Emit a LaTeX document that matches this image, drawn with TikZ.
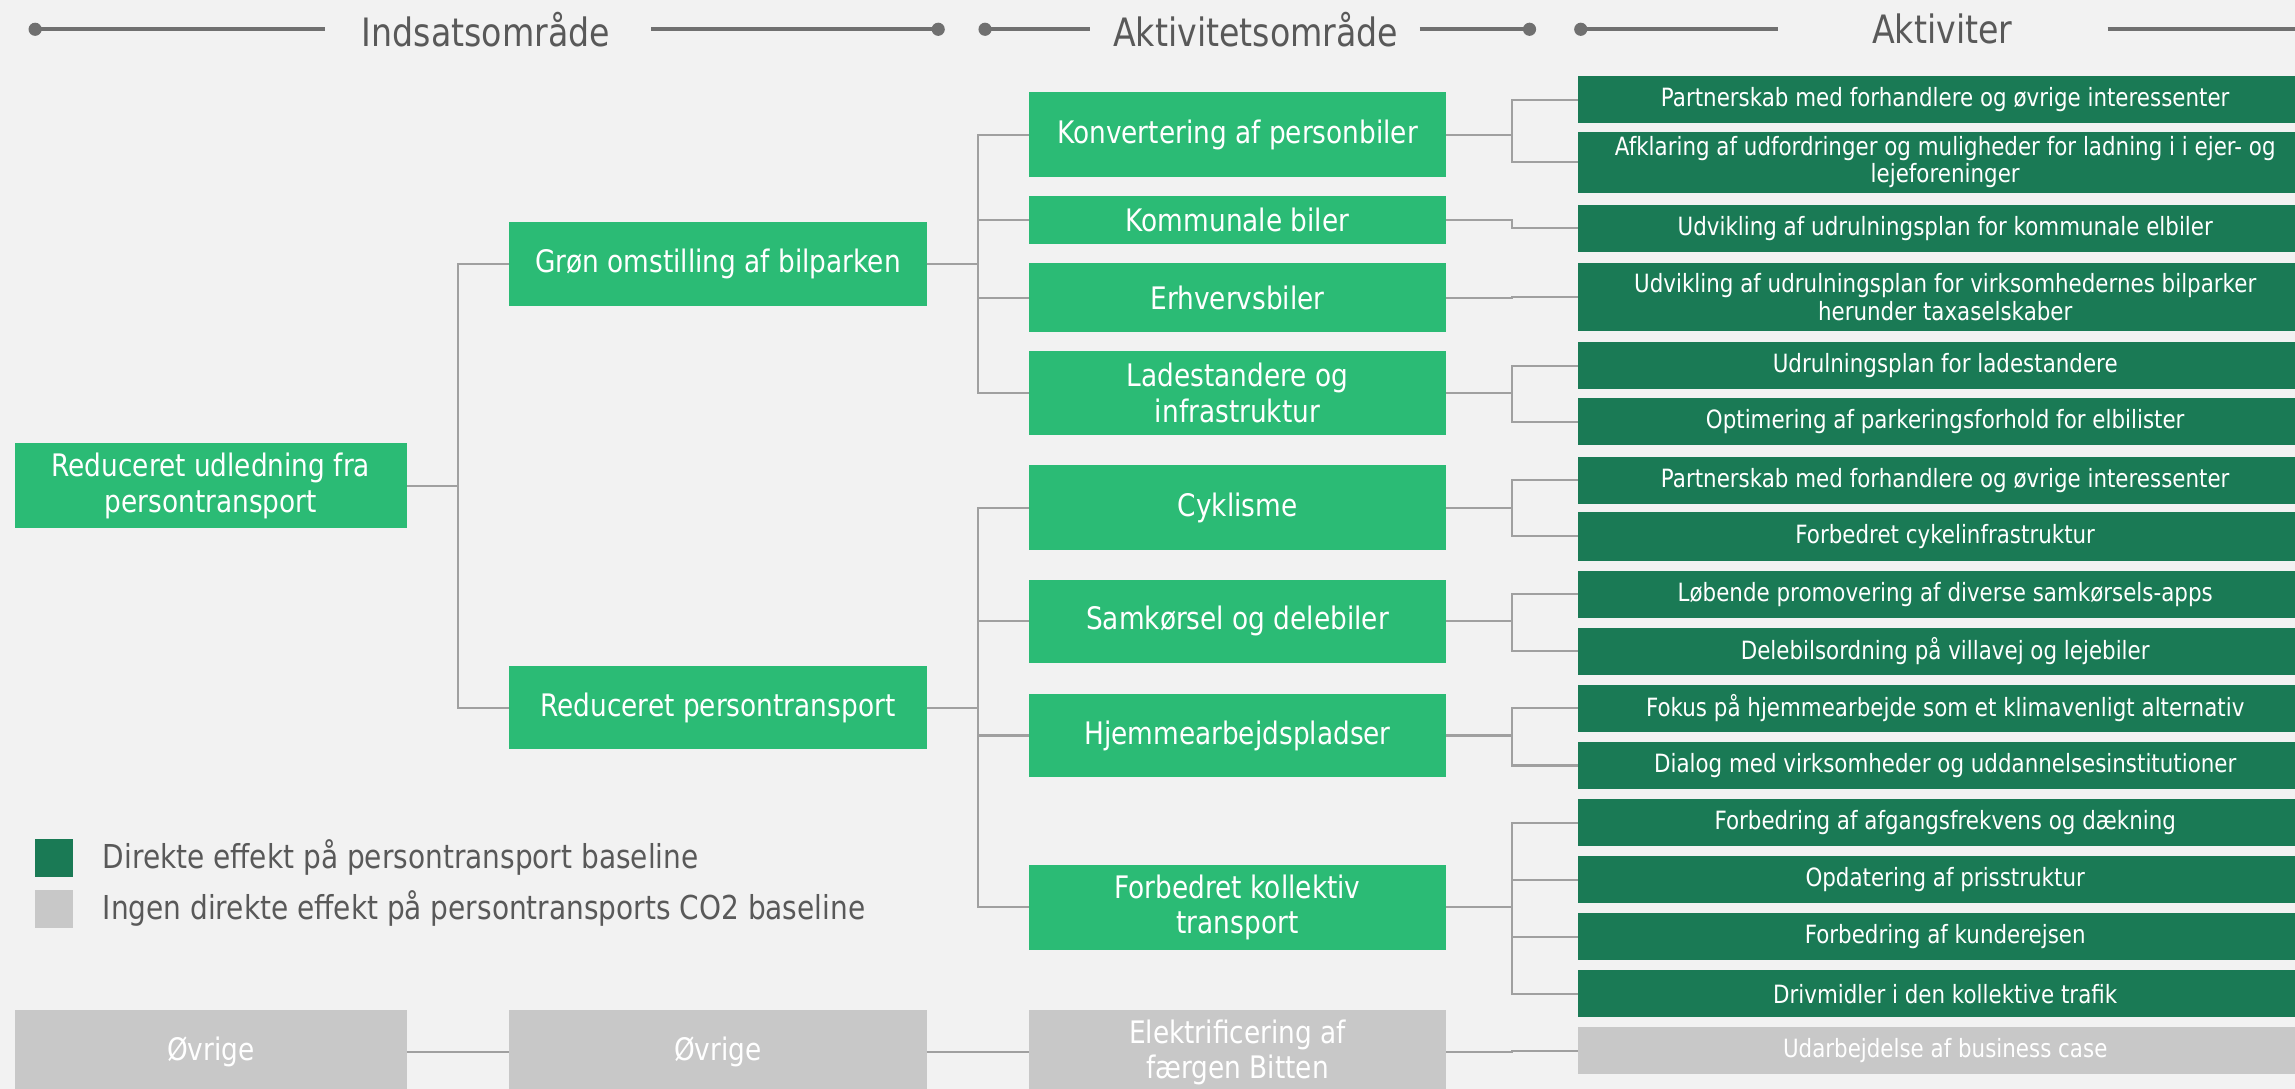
\documentclass[tikz,border=0pt]{standalone}
\usepackage{fontspec}
\setmainfont{DejaVu Sans}[FakeStretch=0.85]
\definecolor{bg}{HTML}{F2F2F2}
\definecolor{lgreen}{HTML}{2BBB75}
\definecolor{dgreen}{HTML}{1A7A55}
\definecolor{gbox}{HTML}{C8C8C8}
\definecolor{conn}{HTML}{A0A0A0}
\definecolor{hdrc}{HTML}{707070}
\definecolor{txtc}{HTML}{595959}
\tikzset{
  boxbase/.style={inner sep=0pt, outer sep=0pt, text=white, align=center},
  lg/.style={boxbase, fill=lgreen, minimum width=#1, font=\fontsize{21.2}{24.5}\selectfont},
  lg/.default=285,
  dg/.style={boxbase, fill=dgreen, minimum width=502, font=\fontsize{17.2}{18.5}\selectfont},
  gbx/.style={boxbase, fill=gbox, minimum width=#1, font=\fontsize{21.2}{24.5}\selectfont},
  gbx/.default=285,
  gsm/.style={boxbase, fill=gbox, minimum width=502, font=\fontsize{17.2}{18.5}\selectfont},
  cn/.style={draw=conn, line width=1.4pt},
  hline/.style={draw=hdrc, line width=3pt},
  hdot/.style={circle, fill=hdrc, inner sep=0pt, minimum size=9pt},
  htext/.style={text=txtc, font=\fontsize{26.7}{30}\selectfont, inner sep=0pt},
  legtext/.style={text=txtc, font=\fontsize{22.5}{26}\selectfont, anchor=west, inner sep=0pt},
  legsq/.style={minimum width=26, minimum height=26, inner sep=0pt}
}
\begin{document}
\begin{tikzpicture}[x=1pt,y=-1pt]
\useasboundingbox (0,0) rectangle (1568,744);
\clip (0,0) rectangle (1568,744);
\fill[bg] (0,0) rectangle (1568,744);

% header
\node[hdot] (d1) at (24,20) {};
\coordinate (l1e) at (222,20);
\node[htext] (h1) at (332,20) {Indsatsområde};
\coordinate (l2s) at (445,20);
\node[hdot] (d2) at (641,20) {};
\node[hdot] (d3) at (673,20) {};
\coordinate (l3e) at (745,20);
\node[htext] (h2) at (858,20) {Aktivitetsområde};
\coordinate (l4s) at (970,20);
\node[hdot] (d4) at (1045,20) {};
\node[hdot] (d5) at (1080,20) {};
\coordinate (l5e) at (1215,20);
\node[htext] (h3) at (1327,20) {Aktiviter};
\coordinate (l6s) at (1440,20);
\coordinate (l6e) at (1580,20);
\draw[hline] (d1.center) -- (l1e);
\draw[hline] (l2s) -- (d2.center);
\draw[hline] (d3.center) -- (l3e);
\draw[hline] (l4s) -- (d4.center);
\draw[hline] (d5.center) -- (l5e);
\draw[hline] (l6s) -- (l6e);

% column 1
\node[lg=268, minimum height=58] (root) at (144,332) {Reduceret udledning fra\\persontransport};
\node[gbx=268, minimum height=58] (ov1) at (144,719) {Øvrige};

% column 2
\node[lg, minimum height=57] (gron) at (490.5,180.5) {Grøn omstilling af bilparken};
\node[lg, minimum height=57] (redp) at (490.5,483.5) {Reduceret persontransport};
\node[gbx, minimum height=58] (ov2) at (490.5,719) {Øvrige};

% column 3
\node[lg, minimum height=58] (konv) at (845.5,92) {Konvertering af personbiler};
\node[lg, minimum height=33] (komm) at (845.5,150.5) {Kommunale biler};
\node[lg, minimum height=47] (erhv) at (845.5,203.5) {Erhvervsbiler};
\node[lg, minimum height=57] (lade) at (845.5,268.5) {Ladestandere og\\infrastruktur};
\node[lg, minimum height=58] (cykl) at (845.5,347) {Cyklisme};
\node[lg, minimum height=57] (samk) at (845.5,424.5) {Samkørsel og delebiler};
\node[lg, minimum height=57] (hjem) at (845.5,502.5) {Hjemmearbejdspladser};
\node[lg, minimum height=58] (koll) at (845.5,620) {Forbedret kollektiv\\transport};
\node[gbx, minimum height=58] (elek) at (845.5,719) {Elektrificering af\\færgen Bitten};

% column 4
\node[dg, minimum height=32] (a1) at (1329,68) {Partnerskab med forhandlere og øvrige interessenter};
\node[dg, minimum height=42] (a2) at (1329,111) {Afklaring af udfordringer og muligheder for ladning i i ejer- og\\lejeforeninger};
\node[dg, minimum height=32] (a3) at (1329,156) {Udvikling af udrulningsplan for kommunale elbiler};
\node[dg, minimum height=46] (a4) at (1329,203) {Udvikling af udrulningsplan for virksomhedernes bilparker\\herunder taxaselskaber};
\node[dg, minimum height=32] (a5) at (1329,250) {Udrulningsplan for ladestandere};
\node[dg, minimum height=32] (a6) at (1329,288) {Optimering af parkeringsforhold for elbilister};
\node[dg, minimum height=32] (a7) at (1329,328) {Partnerskab med forhandlere og øvrige interessenter};
\node[dg, minimum height=33] (a8) at (1329,366.5) {Forbedret cykelinfrastruktur};
\node[dg, minimum height=32] (a9) at (1329,406) {Løbende promovering af diverse samkørsels-apps};
\node[dg, minimum height=32] (a10) at (1329,445) {Delebilsordning på villavej og lejebiler};
\node[dg, minimum height=32] (a11) at (1329,484) {Fokus på hjemmearbejde som et klimavenligt alternativ};
\node[dg, minimum height=32] (a12) at (1329,523) {Dialog med virksomheder og uddannelsesinstitutioner};
\node[dg, minimum height=32] (a13) at (1329,562) {Forbedring af afgangsfrekvens og dækning};
\node[dg, minimum height=32] (a14) at (1329,601) {Opdatering af prisstruktur};
\node[dg, minimum height=32] (a15) at (1329,640) {Forbedring af kunderejsen};
\node[dg, minimum height=32] (a16) at (1329,679) {Drivmidler i den kollektive trafik};
\node[gsm, minimum height=32] (a17) at (1329,718) {Udarbejdelse af business case};

% legend
\node[legsq, fill=dgreen] (lq1) at (37,586) {};
\node[legtext] (lt1) at (70,586) {Direkte effekt på persontransport baseline};
\node[legsq, fill=gbox] (lq2) at (37,621) {};
\node[legtext] (lt2) at (70,621) {Ingen direkte effekt på persontransports CO2 baseline};

% connectors col1 -> col2
\foreach \t in {gron,redp} \draw[cn] (root.east) -- ++(35,0) |- (\t.west);
\draw[cn] (ov1.east) -- (ov2.west);

% col2 -> col3
\foreach \t in {konv,komm,erhv,lade} \draw[cn] (gron.east) -- ++(35,0) |- (\t.west);
\foreach \t in {cykl,samk,hjem,koll} \draw[cn] (redp.east) -- ++(35,0) |- (\t.west);
\draw[cn] (ov2.east) -- ++(35,0) |- (elek.west);

% col3 -> col4
\foreach \s/\t in {konv/a1,konv/a2,komm/a3,erhv/a4,lade/a5,lade/a6,cykl/a7,cykl/a8,samk/a9,samk/a10,hjem/a11,hjem/a12,koll/a13,koll/a14,koll/a15,koll/a16,elek/a17}
  \draw[cn] (\s.east) -- ++(45,0) |- (\t.west);
\end{tikzpicture}
\end{document}
